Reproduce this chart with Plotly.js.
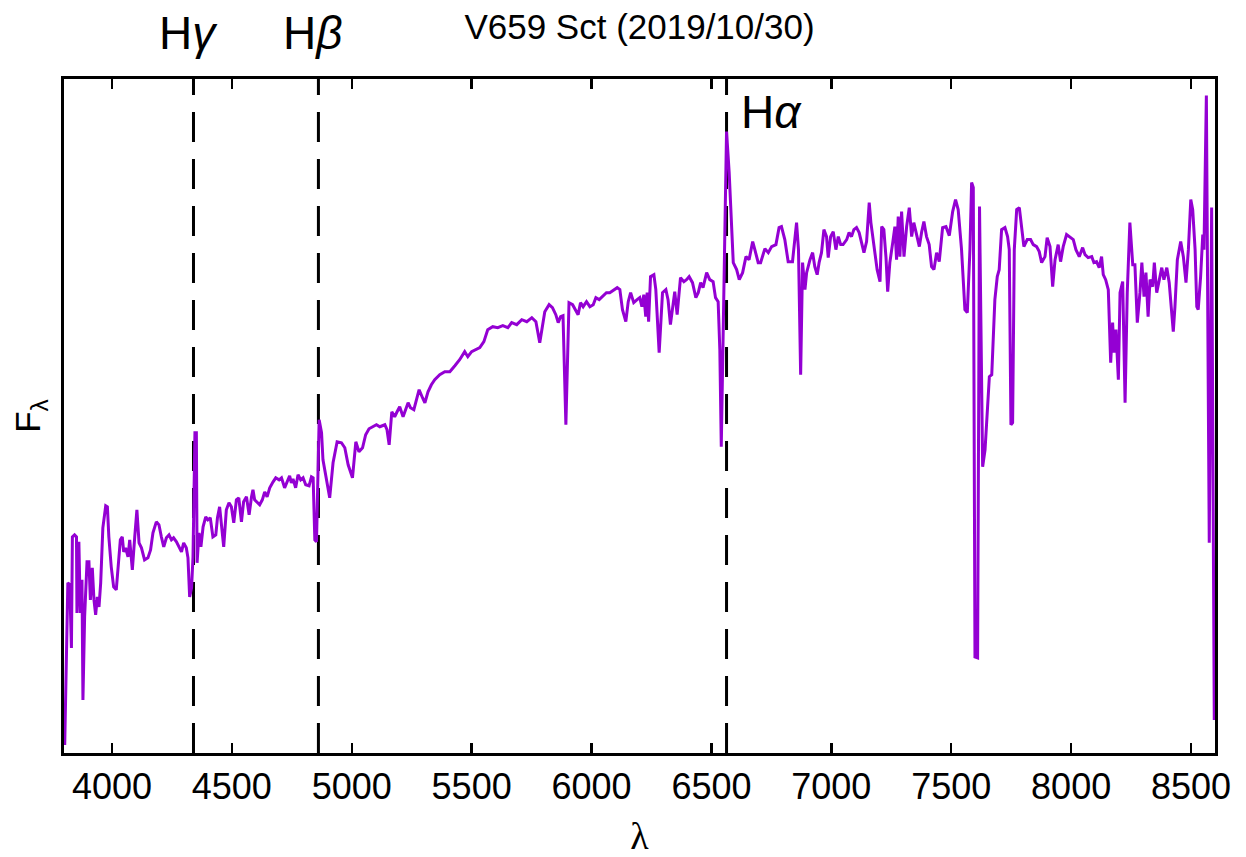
<!DOCTYPE html>
<html>
<head>
<meta charset="utf-8">
<script src="https://cdn.plot.ly/plotly-3.0.1.min.js"></script>
<style>
  html, body { margin: 0; padding: 0; background: #ffffff; }
  #chart { width: 1246px; height: 857px; }
</style>
</head>
<body>
<div id="chart"></div>
<script>
// V659 Sct spectrum, 2019/10/30 — wavelength in Å, flux in arbitrary units

// blue part (3800–5350 Å)
const wlBlue = [3803,3816,3824,3831,3835,3844,3852,3854,3862,3868,
  3875,3879,3886,3896,3904,3910,3918,3925,3932,3939,
  3946,3953,3962,3974,3981,3987,3997,4007,4018,4025,
  4035,4043,4049,4057,4067,4074,4085,4095,4104,4113,
  4123,4136,4150,4161,4171,4185,4196,4206,4216,4227,
  4238,4248,4257,4269,4280,4290,4299,4310,4317,4324,
  4332,4338,4346,4352,4355,4363,4371,4380,4391,4400,
  4410,4421,4433,4440,4449,4458,4466,4477,4488,4498,
  4508,4519,4529,4540,4549,4561,4572,4582,4588,4595,
  4605,4616,4627,4637,4647,4658,4672,4683,4697,4707,
  4720,4730,4741,4748,4755,4766,4776,4787,4797,4808,
  4822,4832,4839,4846,4853,4864,4874,4880,4894,4908,
  4922,4939,4957,4971,4985,5003,5017,5030,5045,5058,
  5072,5089,5103,5117,5138,5147,5156,5167,5179,5189,
  5200,5214,5225,5235,5245,5259,5270,5281,5295,5305,
  5318,5332,5346];
const fxBlue = [0.08,1.70,1.68,1.05,2.16,2.18,2.16,1.40,2.11,1.40,
  1.73,0.53,1.36,1.91,1.91,1.53,1.85,1.53,1.38,1.56,
  1.46,1.70,2.25,2.47,2.46,2.16,1.86,1.66,1.63,1.86,
  2.13,2.16,2.01,2.05,1.96,2.13,1.83,2.16,2.43,2.10,
  2.05,1.93,1.95,2.03,2.20,2.31,2.28,2.16,2.06,2.15,
  2.18,2.13,2.15,2.11,2.06,2.01,2.10,2.05,1.95,1.56,
  1.65,1.96,3.20,3.20,1.90,2.20,2.06,2.26,2.36,2.33,
  2.35,2.16,2.18,2.35,2.46,2.26,2.06,2.43,2.50,2.46,
  2.30,2.53,2.55,2.31,2.51,2.56,2.38,2.56,2.63,2.53,
  2.51,2.48,2.53,2.61,2.56,2.65,2.71,2.75,2.73,2.75,
  2.65,2.71,2.77,2.70,2.74,2.65,2.78,2.73,2.75,2.68,
  2.67,2.76,2.75,2.13,2.11,3.33,3.20,2.93,2.73,2.55,
  2.90,3.11,3.10,3.05,2.88,2.75,3.11,3.01,3.05,3.18,
  3.24,3.26,3.28,3.26,3.28,3.23,3.08,3.41,3.36,3.41,
  3.46,3.36,3.43,3.50,3.45,3.43,3.53,3.63,3.55,3.50,
  3.61,3.68,3.73];

// green part (5350–6600 Å)
const wlGreen = [5367,5388,5409,5430,5450,5471,5484,5500,5517,5534,
  5551,5567,5588,5609,5630,5651,5667,5688,5709,5730,
  5751,5768,5784,5795,5805,5823,5837,5851,5861,5871,
  5881,5893,5906,5921,5934,5944,5954,5965,5979,5993,
  6007,6018,6032,6046,6062,6076,6093,6107,6118,6129,
  6143,6153,6163,6176,6190,6201,6210,6218,6226,6232,
  6238,6246,6260,6268,6282,6296,6310,6319,6329,6338,
  6347,6357,6371,6385,6396,6407,6421,6435,6445,6455,
  6465,6480,6493,6507,6517,6528,6535,6541,6548,6553,
  6563,6574,6584,6591];
const fxGreen = [3.78,3.81,3.81,3.87,3.93,4.01,3.96,4.01,4.03,4.05,
  4.11,4.23,4.26,4.25,4.27,4.25,4.30,4.28,4.33,4.31,
  4.35,4.31,4.10,4.28,4.41,4.48,4.45,4.38,4.30,4.36,
  4.37,3.28,4.50,4.48,4.43,4.38,4.50,4.46,4.51,4.46,
  4.48,4.55,4.53,4.56,4.60,4.60,4.63,4.65,4.63,4.43,
  4.31,4.51,4.60,4.50,4.53,4.55,4.46,4.58,4.36,4.60,
  4.31,4.76,4.78,4.63,4.00,4.60,4.63,4.53,4.28,4.46,
  4.61,4.38,4.75,4.71,4.73,4.76,4.70,4.55,4.60,4.70,
  4.65,4.80,4.73,4.71,4.55,4.51,4.03,3.06,4.03,4.96,
  6.21,5.80,5.30,4.90];

// red part (6600–8600 Å)
const wlRed = [6605,6616,6630,6644,6657,6672,6681,6695,6705,6723,
  6737,6751,6769,6782,6792,6806,6820,6838,6855,6863,
  6872,6880,6890,6897,6911,6922,6931,6941,6949,6959,
  6969,6980,6987,6997,7008,7019,7029,7039,7049,7064,
  7074,7084,7094,7105,7116,7126,7136,7147,7158,7165,
  7172,7182,7191,7203,7210,7219,7228,7235,7244,7256,
  7265,7272,7279,7286,7293,7303,7314,7325,7335,7344,
  7356,7367,7377,7386,7397,7408,7418,7428,7439,7450,
  7464,7478,7492,7506,7518,7529,7543,7557,7567,7578,
  7585,7592,7599,7610,7618,7631,7641,7654,7659,7669,
  7675,7682,7692,7700,7710,7724,7735,7742,7749,7756,
  7763,7773,7784,7794,7803,7817,7831,7842,7856,7867,
  7877,7891,7900,7912,7923,7933,7946,7956,7967,7981,
  7995,8009,8020,8034,8048,8058,8071,8086,8095,8106,
  8117,8127,8134,8144,8155,8165,8173,8179,8187,8197,
  8204,8215,8225,8234,8245,8257,8266,8276,8287,8295,
  8304,8312,8321,8329,8340,8347,8357,8368,8378,8387,
  8399,8409,8419,8426,8433,8443,8457,8468,8479,8489,
  8499,8507,8517,8524,8530,8540,8549,8554,8564,8576,
  8586,8597];
const fxRed = [4.83,4.73,4.80,4.96,4.93,5.11,5.03,4.90,4.90,5.04,
  5.00,5.06,5.08,5.25,5.26,5.13,4.91,4.91,5.30,5.03,
  3.78,4.90,4.63,4.80,4.93,5.00,4.86,4.78,4.90,5.00,
  5.23,5.16,4.95,5.16,5.21,5.03,5.16,5.08,5.08,5.13,
  5.20,5.16,5.23,5.25,5.20,5.10,5.00,5.11,5.50,5.30,
  5.16,4.96,4.83,4.71,5.26,5.23,4.95,4.61,4.90,5.10,
  5.26,4.93,5.36,4.96,5.41,4.96,5.26,5.45,5.16,5.30,
  5.16,5.06,5.21,5.31,5.16,5.08,4.86,4.83,5.00,4.91,
  5.25,5.26,5.17,5.41,5.53,5.43,5.03,4.43,4.40,5.03,
  5.70,5.65,0.96,0.95,5.46,2.86,3.03,3.53,3.76,3.78,
  4.16,4.53,4.76,4.83,5.23,5.25,5.16,5.03,3.28,3.30,
  5.03,5.43,5.45,5.23,5.06,5.13,5.13,5.08,5.06,5.01,
  4.90,4.96,5.15,5.06,4.66,4.93,5.08,4.91,5.06,5.18,
  5.15,5.13,5.03,4.96,5.05,4.98,4.95,4.96,4.90,4.91,
  4.85,4.96,4.78,4.73,4.63,3.90,4.30,4.00,4.23,3.73,
  4.60,4.71,3.50,4.60,5.30,4.88,4.88,4.30,4.60,4.90,
  4.56,4.80,4.36,4.73,4.66,4.90,4.60,4.75,4.85,4.73,
  4.85,4.70,4.36,4.21,4.46,4.93,5.11,4.96,4.70,5.03,
  5.53,5.43,5.03,4.46,4.43,4.76,5.18,5.03,6.57,2.10,
  5.45,0.33];

// Balmer lines marked on the plot
const lineNames = ['H<i>γ</i>', 'H<i>β</i>', 'H<i>α</i>'];
const lineWavelengths = [4340, 4861, 6563];

const xTicks = [4000, 4500, 5000, 5500, 6000, 6500, 7000, 7500, 8000, 8500];

const wavelength = wlBlue.concat(wlGreen, wlRed);
const flux = fxBlue.concat(fxGreen, fxRed);

const spectrum = {
  x: wavelength,
  y: flux,
  type: 'scatter',
  mode: 'lines',
  line: { color: '#9400d3', width: 3 },
  hoverinfo: 'x+y'
};

const shapes = lineWavelengths.map(w => ({
  type: 'line', xref: 'x', yref: 'paper',
  x0: w, x1: w, y0: 0, y1: 1,
  layer: 'below',
  line: { color: '#000000', width: 3, dash: '30px,17px' }
}));

// Hγ and Hβ sit above the frame, Hα just inside it to the right of its line
const annotations = lineNames.map((name, i) => {
  const inside = i === 2;
  return {
    x: lineWavelengths[i], xref: 'x',
    y: inside ? 0.951 : 1.068, yref: 'paper',
    text: name, showarrow: false,
    xanchor: inside ? 'left' : 'center',
    yanchor: 'middle',
    xshift: inside ? 12 : -5,
    font: { family: 'Liberation Sans, Arial, sans-serif', size: 46, color: '#000000' }
  };
});

const sans = 'Liberation Sans, Arial, Helvetica, sans-serif';

const layout = {
  width: 1246,
  height: 857,
  margin: { l: 64, r: 31, t: 79, b: 104, pad: 0 },
  paper_bgcolor: '#ffffff',
  plot_bgcolor: '#ffffff',
  showlegend: false,
  title: {
    text: 'V659 Sct (2019/10/30)',
    font: { family: sans, size: 35, color: '#000000' },
    x: 0.5, xref: 'paper', xanchor: 'center',
    y: 0.969, yref: 'container', yanchor: 'middle'
  },
  xaxis: {
    range: [3800, 8600],
    tickmode: 'array',
    tickvals: xTicks,
    ticktext: xTicks.map(String),
    ticks: 'inside',
    ticklen: 10,
    tickwidth: 2.5,
    tickcolor: '#000000',
    showline: true,
    linecolor: '#000000',
    linewidth: 3,
    mirror: 'ticks',
    showgrid: false,
    zeroline: false,
    tickfont: { family: sans, size: 36, color: '#000000' },
    title: {
      text: 'λ',
      font: { family: 'Liberation Serif, Times New Roman, serif', size: 38, color: '#000000' },
      standoff: 24
    }
  },
  yaxis: {
    range: [0, 6.735],
    showline: true,
    linecolor: '#000000',
    linewidth: 3,
    mirror: true,
    ticks: '',
    showticklabels: false,
    showgrid: false,
    zeroline: false,
    title: {
      text: 'F<sub>λ</sub>',
      font: { family: sans, size: 35, color: '#000000' },
      standoff: 10
    }
  },
  shapes: shapes,
  annotations: annotations
};

Plotly.newPlot('chart', [spectrum], layout, { displayModeBar: false, staticPlot: true });
</script>
</body>
</html>
